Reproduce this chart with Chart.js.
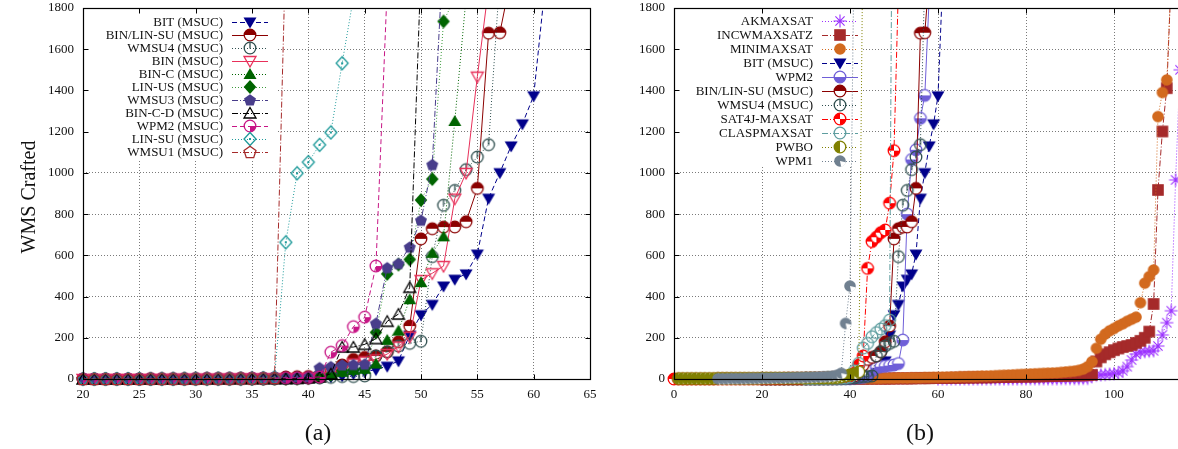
<!DOCTYPE html>
<html>
<head>
<meta charset="utf-8">
<script src="https://cdn.jsdelivr.net/npm/chart.js@4.4.0/dist/chart.umd.min.js"></script>
<style>
  html, body { margin: 0; padding: 0; background: #fff; overflow: hidden; }
  body { width: 1178px; height: 449px; position: relative; }
  #chartA { position: absolute; left: 0; top: 0; }
  #chartB { position: absolute; left: 600px; top: 0; }
</style>
</head>
<body>
<canvas id="chartA" width="600" height="449"></canvas>
<canvas id="chartB" width="612" height="449"></canvas>
<script>
// ---- data (x = instance index, y = time) ----
// MSUC solvers, x starts at 20
const MSUC_X0 = 20;
const bitY      = [0,0,0,0,0,0,0,0,1,1,1,1,1,1,2,2,2,3, 3,4,4,5,10,15,25,35,46,62,88,213,312,362,451,484,510,606,877,1001,1131,1238,1374,1900];
const binLinSuY = [0,0,0,0,0,0,1,1,1,1,1,2,2,2,3,3,3,4, 10,11,12,15,45,68,95,105,112,132,181,257,680,729,737,738,763,925,1678,1680,1950];
const wmsu4Y    = [0,0,0,0,0,0,0,0,0,0,1,1,1,1,1,1,2,2, 2,3,4,5,8,12,12,15,112,132,160,173,183,594,843,915,1016,1077,1137,1950];
const binY      = [0,0,0,0,0,0,0,0,1,1,1,1,1,2,2,2,2,3, 3,4,5,10,30,45,75,85,95,121,157,205,480,513,548,875,1000,1467,1900];
const binCY     = [0,0,0,0,0,0,0,0,0,1,1,1,1,1,1,2,2,2, 2,3,5,15,25,35,45,50,75,190,235,387,470,612,692,1252,1850];
const linUsY    = [0,0,0,0,0,0,0,0,0,1,1,1,1,1,1,2,2,2, 2,3,5,10,20,40,45,50,226,510,555,580,868,970,1735,1850];
const wmsu3Y    = [0,0,0,0,0,0,0,1,1,1,1,1,2,2,2,3,3,4, 5,8,10,55,60,68,70,72,270,540,560,640,770,1040,2100];
const binCDY    = [0,0,0,0,0,0,0,0,1,1,1,1,1,1,2,2,2,2, 2,3,5,10,25,155,155,168,196,280,315,445,2000];
const wpm2MsucY = [0,0,0,0,0,0,1,1,1,1,2,2,2,3,3,4,4,5, 6,6,7,10,130,162,254,300,548,1900];
const linSuY    = [0,0,0,0,0,0,0,1,1,1,1,1,2,2,2,3,4,8, 663,998,1052,1136,1196,1532,1850];
const wmsu1Y    = [0,0,0,0,0,0,1,1,1,1,1,2,2,2,3,3,4,5, 2100];

// other solvers (panel b)
const SAT4J_X0 = 0;
const sat4jY = [0,0,0,0,0,0,0,0,0,0, 1,1,1,1,1,1,1,1,1,1, 2,2,2,2,2,3,3,3,3,3, 4,4,4,5,5,5,6,7,8,10,
                15,28,68,112,537,667,688,710,723,853,1108,1900];
const CLASP_X0 = 30;
const claspY = [1,1,1,2,2,2,3,3,4,5, 10,40,76,150,173,205,225,243,259,286,4000];
const WPM2_X0 = 30;
const wpm2Y = [1,1,1,1,2,2,2,2,3,3,3,4,5,8,15, 40,55,60,62,65,68,75,189,800,1065,1112,1265,1376,1850];
const PWBO_X0 = 1;
const pwboY = [2,2,2,2,2,2,2,2,2, 3,3,3,3,3,3,3,3,3,3, 4,4,4,4,4,4,4,4,4,4, 5,5,5,5,5,6,6,7,
               10,15,20,25,35,2300];
const WPM1_X0 = 10;
const wpm1Y = [1,1,1,2,2,2,2,3,3,3, 4,4,4,5,5,5,6,6,7,7, 8,8,9,10,11,12,14,18,28, 270,451,2200];
const MINIMAX_X0 = 30;
const minimaxY = [1,1,1,1,1,1,1,2,2,2, 2,2,2,3,3,3,3,3,4,4, 4,5,5,5,6,6,6,7,7,8, 8,9,9,10,10,11,11,12,12,13,
                  14,14,15,16,17,18,19,20,21,22, 23,24,25,26,27,28,29,30,32,34, 36,38,42,48,60,
                  84,149,193,218,234,245,258,268,280,290,300,370,465,497,529,1273,1390,1451,1950];
const INCW_X0 = 30;
const incwY = [0,0,0,0,0,0,0,1,1,1, 1,1,1,1,2,2,2,2,2,2, 3,3,3,3,3,4,4,4,4,5, 5,5,5,6,6,6,7,7,7,8,
               8,8,9,9,10,10,10,11,11,12, 12,12,13,13,14,14,15,15,16,16, 17,17,18,18,19,20,
               85,105,120,130,140,148,155,160,165,175,185,200,230,364,917,1201,1411,1950];
const AKMAX_X0 = 60;
const akmaxY = [0,0,0,0,0,0,0,0,0,0, 0,0,0,0,0,0,0,0,0,1, 1,1,1,1,1,1,1,1,2,2, 2,2,2,3,3,
                15,18,20,22,24,26,30,40,60,92,121,130,133,135,137,160,214,273,331,966,1500];

const Y_TICKS_MAX = 1800;
const FONT = '"Liberation Serif", "DejaVu Serif", serif';

const SOLID = [], DASH = [5, 3], DOT = [1, 2], DASHDOT = [6, 2, 1, 2];

// gnuplot-like point symbols drawn on small canvases
function makeMarker(kind, color) {
    const c = document.createElement('canvas');
    c.width = 16; c.height = 16;
    const g = c.getContext('2d');
    g.translate(8, 8);
    g.lineWidth = 1.3;
    g.strokeStyle = color;
    g.fillStyle = color;
    const r = 5.8;
    const poly = p => {
        g.beginPath();
        p.forEach((q, i) => i ? g.lineTo(q[0], q[1]) : g.moveTo(q[0], q[1]));
        g.closePath();
    };
    const pent = [];
    for (let k = 0; k < 5; k++) {
        const a = -Math.PI / 2 + k * 2 * Math.PI / 5;
        pent.push([6.3 * Math.cos(a), 6.3 * Math.sin(a) + 0.5]);
    }
    const circle = () => { g.beginPath(); g.arc(0, 0, r, 0, 2 * Math.PI); };
    const wedge = (a0, a1, fill) => {
        g.beginPath(); g.moveTo(0, 0); g.arc(0, 0, r, a0, a1); g.closePath();
        g.fillStyle = fill; g.fill();
    };
    switch (kind) {
        case 'triDown': poly([[-6.5, -4.5], [6.5, -4.5], [0, 6.5]]); g.fill(); break;
        case 'triDownOpen': poly([[-6, -4.5], [6, -4.5], [0, 6]]); g.stroke(); break;
        case 'triUp': poly([[-6.5, 5], [6.5, 5], [0, -6]]); g.fill(); break;
        case 'triUpOpen': poly([[-6, 5], [6, 5], [0, -5.5]]); g.stroke(); break;
        case 'diamond': poly([[0, -7], [6.3, 0], [0, 7], [-6.3, 0]]); g.fill(); break;
        case 'diamondDot': poly([[0, -6.5], [6, 0], [0, 6.5], [-6, 0]]); g.stroke(); g.fillRect(-1, -1, 2, 2); break;
        case 'pent': poly(pent); g.fill(); break;
        case 'pentOpen': poly(pent); g.stroke(); break;
        case 'circle': circle(); g.fill(); break;
        case 'circleOpen': circle(); g.stroke(); break;
        case 'clock':
            circle(); g.stroke();
            g.beginPath(); g.moveTo(0, -r); g.lineTo(0, 0.5); g.stroke();
            break;
        case 'halfTop': wedge(Math.PI, 2 * Math.PI, color); wedge(0, Math.PI, '#fff'); circle(); g.stroke(); break;
        case 'halfBottom': wedge(0, Math.PI, color); wedge(Math.PI, 2 * Math.PI, '#fff'); circle(); g.stroke(); break;
        case 'halfLeft': wedge(Math.PI / 2, 3 * Math.PI / 2, color); wedge(-Math.PI / 2, Math.PI / 2, '#fff'); circle(); g.stroke(); break;
        case 'quarter': circle(); g.stroke(); wedge(0, Math.PI / 2, color); break;
        case 'checker':
            wedge(0, 2 * Math.PI, color);
            wedge(-Math.PI / 2, 0, '#fff'); wedge(Math.PI / 2, Math.PI, '#fff');
            circle(); g.stroke();
            break;
        case 'notch': wedge(0, 2 * Math.PI, color); wedge(0.2, Math.PI / 2 - 0.2, '#fff'); break;
        case 'square': g.fillRect(-5.8, -5.8, 11.6, 11.6); break;
        case 'star':
            g.lineWidth = 1.1;
            g.beginPath();
            g.moveTo(-6.5, 0); g.lineTo(6.5, 0); g.moveTo(0, -6.5); g.lineTo(0, 6.5);
            g.moveTo(-4.6, -4.6); g.lineTo(4.6, 4.6); g.moveTo(-4.6, 4.6); g.lineTo(4.6, -4.6);
            g.stroke();
            break;
    }
    return c;
}

function series(label, x0, ys, color, dash, kind, lineColor) {
    return {
        label: label,
        data: ys.map((y, i) => ({ x: x0 + i, y: y })),
        borderColor: lineColor || color,
        backgroundColor: color,
        borderWidth: 1,
        borderDash: dash,
        pointStyle: makeMarker(kind, color),
        pointRadius: 6,
        pointHoverRadius: 6,
        fill: false,
        tension: 0,
        clip: { left: 8, top: 0, right: 0, bottom: 8 }
    };
}

// key with opaque background, text on the left, sample on the right
const gpKey = {
    id: 'gpKey',
    beforeDatasetsDraw(chart, args, o) {
        const ctx = chart.ctx;
        ctx.save();
        ctx.fillStyle = '#fff';
        ctx.fillRect(o.box[0], o.box[1], o.box[2], o.box[3]);
        ctx.font = '13px ' + FONT;
        ctx.textAlign = 'right';
        ctx.textBaseline = 'middle';
        chart.data.datasets.forEach((d, i) => {
            const y = o.y0 + i * o.dy;
            ctx.fillStyle = '#111';
            ctx.fillText(d.label, o.textX, y + 0.5);
            ctx.strokeStyle = d.borderColor;
            ctx.lineWidth = 1;
            ctx.setLineDash(d.borderDash);
            ctx.beginPath();
            ctx.moveTo(o.lineX0, Math.round(y) + 0.5);
            ctx.lineTo(o.lineX1, Math.round(y) + 0.5);
            ctx.stroke();
            ctx.setLineDash([]);
            const m = d.pointStyle;
            ctx.drawImage(m, o.markX - m.width / 2, y - m.height / 2);
        });
        ctx.restore();
    }
};

// frame, mirrored inward ticks, axis title and panel label
const gpFrame = {
    id: 'gpFrame',
    afterDraw(chart, args, o) {
        const ctx = chart.ctx, a = chart.chartArea, sx = chart.scales.x, sy = chart.scales.y;
        const L = Math.round(a.left) + 0.5, R = Math.round(a.right) + 0.5;
        const T = Math.round(a.top) + 0.5, B = Math.round(a.bottom) + 0.5;
        ctx.save();
        ctx.strokeStyle = '#000';
        ctx.lineWidth = 1;
        ctx.beginPath();
        sx.ticks.forEach(t => {
            const px = Math.round(sx.getPixelForValue(t.value)) + 0.5;
            ctx.moveTo(px, B); ctx.lineTo(px, B - 5);
            ctx.moveTo(px, T); ctx.lineTo(px, T + 5);
        });
        sy.ticks.forEach(t => {
            const py = Math.round(sy.getPixelForValue(t.value)) + 0.5;
            ctx.moveTo(L, py); ctx.lineTo(L + 5, py);
            ctx.moveTo(R, py); ctx.lineTo(R - 5, py);
        });
        ctx.stroke();
        ctx.lineWidth = 1.2;
        ctx.strokeRect(L, T, R - L, B - T);
        ctx.fillStyle = '#111';
        ctx.textAlign = 'center';
        ctx.textBaseline = 'middle';
        if (o.yTitle) {
            ctx.save();
            ctx.translate(o.yTitle.x, o.yTitle.y);
            ctx.rotate(-Math.PI / 2);
            ctx.font = '20px ' + FONT;
            ctx.fillText(o.yTitle.text, 0, 0);
            ctx.restore();
        }
        ctx.font = '24px ' + FONT;
        ctx.fillText(o.label.text, o.label.x, o.label.y);
        ctx.restore();
    }
};

function makeChart(id, datasets, cfg) {
    datasets.forEach((d, i) => { d.order = datasets.length - i; });
    const tickFont = { family: FONT, size: 13 };
    return new Chart(document.getElementById(id), {
        type: 'line',
        data: { datasets: datasets },
        options: {
            responsive: false,
            animation: false,
            events: [],
            layout: { padding: cfg.padding },
            scales: {
                x: {
                    type: 'linear', min: cfg.xMin, max: cfg.xMax,
                    // fixed axis band; drop the label overflow padding so the plot box is exact
                    afterFit: s => { s.height = 70; s.paddingLeft = 0; s.paddingRight = 0; },
                    ticks: { stepSize: cfg.xStep, autoSkip: false, maxRotation: 0, padding: 8,
                             color: '#111', font: tickFont, callback: v => String(v) },
                    grid: { color: '#7a7a7a', lineWidth: 1, drawTicks: false },
                    border: { display: false, dash: [1, 2] }
                },
                y: {
                    type: 'linear', min: 0, max: Y_TICKS_MAX,
                    afterFit: s => { s.width = cfg.yWidth; s.paddingTop = 0; s.paddingBottom = 0; },
                    ticks: { stepSize: 200, padding: 9, color: '#111', font: tickFont, callback: v => String(v) },
                    grid: { color: '#7a7a7a', lineWidth: 1, drawTicks: false },
                    border: { display: false, dash: [1, 2] }
                }
            },
            plugins: {
                legend: { display: false },
                tooltip: { enabled: false },
                gpKey: cfg.key,
                gpFrame: cfg.frame
            }
        },
        plugins: [gpKey, gpFrame]
    });
}

// (a) MSUC variants
makeChart('chartA', [
    series('BIT (MSUC)', MSUC_X0, bitY, '#00008b', DASH, 'triDown'),
    series('BIN/LIN-SU (MSUC)', MSUC_X0, binLinSuY, '#8b0000', SOLID, 'halfTop'),
    series('WMSU4 (MSUC)', MSUC_X0, wmsu4Y, '#2f4f4f', DOT, 'clock'),
    series('BIN (MSUC)', MSUC_X0, binY, '#e8305a', SOLID, 'triDownOpen'),
    series('BIN-C (MSUC)', MSUC_X0, binCY, '#006400', DOT, 'triUp'),
    series('LIN-US (MSUC)', MSUC_X0, linUsY, '#006400', DOT, 'diamond', '#3a9a3a'),
    series('WMSU3 (MSUC)', MSUC_X0, wmsu3Y, '#483d8b', DASHDOT, 'pent'),
    series('BIN-C-D (MSUC)', MSUC_X0, binCDY, '#000000', DASHDOT, 'triUpOpen'),
    series('WPM2 (MSUC)', MSUC_X0, wpm2MsucY, '#c71585', DASH, 'quarter'),
    series('LIN-SU (MSUC)', MSUC_X0, linSuY, '#1e9a9a', DOT, 'diamondDot'),
    series('WMSU1 (MSUC)', MSUC_X0, wmsu1Y, '#a52a2a', DASHDOT, 'pentOpen')
], {
    padding: { top: 8, right: 10, bottom: 0, left: 0 },
    xMin: 20, xMax: 65, xStep: 5, yWidth: 83,
    key: { box: [84, 9, 192, 152], y0: 22, dy: 13, textX: 223, lineX0: 232, lineX1: 268, markX: 250 },
    frame: { yTitle: { text: 'WMS Crafted', x: 30, y: 197 }, label: { text: '(a)', x: 318, y: 434 } }
});

// (b) MSUC best vs other solvers
makeChart('chartB', [
    series('AKMAXSAT', AKMAX_X0, akmaxY, '#9b30ff', DOT, 'star'),
    series('INCWMAXSATZ', INCW_X0, incwY, '#a52a2a', DASHDOT, 'square'),
    series('MINIMAXSAT', MINIMAX_X0, minimaxY, '#d2691e', DOT, 'circle'),
    series('BIT (MSUC)', MSUC_X0, bitY, '#00008b', DASH, 'triDown'),
    series('WPM2', WPM2_X0, wpm2Y, '#6f5fd8', SOLID, 'halfBottom'),
    series('BIN/LIN-SU (MSUC)', MSUC_X0, binLinSuY, '#8b0000', SOLID, 'halfTop'),
    series('WMSU4 (MSUC)', MSUC_X0, wmsu4Y, '#2f4f4f', DOT, 'clock'),
    series('SAT4J-MAXSAT', SAT4J_X0, sat4jY, '#ff0000', DASHDOT, 'checker'),
    series('CLASPMAXSAT', CLASP_X0, claspY, '#5f9ea0', DASHDOT, 'circleOpen'),
    series('PWBO', PWBO_X0, pwboY, '#808000', DOT, 'halfLeft'),
    series('WPM1', WPM1_X0, wpm1Y, '#708090', DOT, 'notch')
], {
    padding: { top: 8, right: 10, bottom: 0, left: 0 },
    xMin: 0, xMax: 120, xStep: 20, yWidth: 74,
    key: { box: [75, 9, 188, 158], y0: 21, dy: 14, textX: 213, lineX0: 222, lineX1: 258, markX: 240 },
    frame: { yTitle: null, label: { text: '(b)', x: 320, y: 434 } }
});
</script>
</body>
</html>
